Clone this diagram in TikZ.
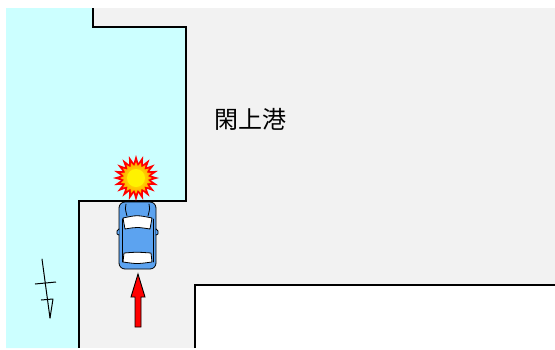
\documentclass[tikz,border=0pt]{standalone}
\usepackage{fontspec}
\newfontfamily\jpfont{Noto Sans CJK JP}
\begin{document}
\begin{tikzpicture}[x=1pt,y=-1pt,
  wall/.style={draw=black,line width=1.6pt,line join=miter},
  carline/.style={draw=black,line width=0.8pt,line join=round,line cap=round}]
\definecolor{sea}{HTML}{CCFFFF}
\definecolor{land}{HTML}{F2F2F2}
\definecolor{carblue}{HTML}{5CA3F0}
\useasboundingbox (0,0) rectangle (555,349);
% land and water
\fill[land] (79,8) rectangle (555,348);
\fill[sea] (6,8) -- (93,8) -- (93,27) -- (186,27) -- (186,201) -- (79,201) -- (79,348) -- (6,348) -- cycle;
\fill[white] (195,285) rectangle (555,349);
% quay walls
\draw[wall] (93,8) -- (93,27) -- (186,27) -- (186,201) -- (79,201) -- (79,348);
\draw[wall] (195,348) -- (195,285) -- (555,285);
% place name
\node[font=\jpfont\fontsize{24}{24}\selectfont,inner sep=0pt] (name) at (250,119) {閑上港};
% small mark in the water
\draw[black,line width=1pt,line cap=round] (42,259) -- (50,318);
\draw[black,line width=1pt] (35,284) -- (56,282);
\draw[black,line width=1pt,line join=round] (41,300) -- (53,299) -- (50,318);
% explosion burst
\coordinate (burst) at (136,178);
\fill[red] ([shift={(burst)}]0:23pt)
  \foreach \k [evaluate=\k as \r using {mod(\k,2)==0?23:15}] in {1,...,39}{
    -- ([shift={(burst)}]\k*9:\r pt)} -- cycle;
\shade[inner color=yellow,outer color=orange!70!yellow] ([shift={(burst)}]0:16pt)
  \foreach \k [evaluate=\k as \r using {mod(\k,2)==0?16:12}] in {1,...,39}{
    -- ([shift={(burst)}]\k*9:\r pt)} -- cycle;
\fill[yellow] (burst) circle (9pt);
% car seen from above
\draw[carline,fill=carblue,rounded corners=6pt] (119,202) rectangle (156,269);
\draw[carline,fill=carblue] (119,229) -- (117,231) -- (117,234) -- (119,235);
\draw[carline,fill=carblue] (156,229) -- (158,231) -- (158,234) -- (156,235);
\draw[carline] (126,204) .. controls (125,208) .. (127,216);
\draw[carline] (149,204) .. controls (150,208) .. (148,216);
\draw[carline,fill=white] (123,218) .. controls (137,215) .. (152,218) -- (150,229) .. controls (137,227) .. (125,229) -- cycle;
\draw[carline] (122,219) -- (122,262);
\draw[carline] (153,219) -- (153,262);
\draw[carline,fill=white] (124,253) .. controls (137,252) .. (151,253) -- (152,262) .. controls (137,264) .. (123,262) -- cycle;
% direction of travel
\draw[black,line width=0.9pt,fill=red,line join=miter]
  (138,274) -- (145,297) -- (141,297) -- (141,327) -- (135,327) -- (135,297) -- (131,297) -- cycle;
\end{tikzpicture}
\end{document}
